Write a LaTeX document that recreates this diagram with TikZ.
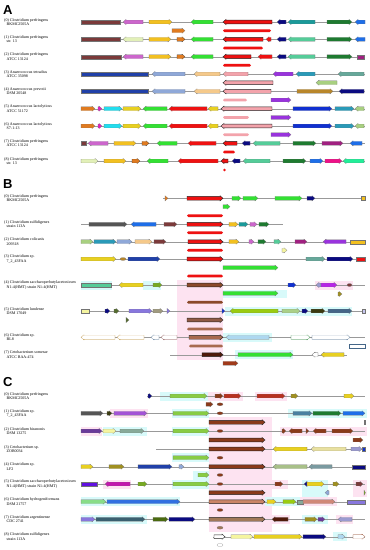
\documentclass[tikz,border=0pt]{standalone}
\usepackage{fontspec}
\setmainfont{Liberation Serif}
\newfontfamily\hv{Liberation Sans}
\definecolor{cBrn}{HTML}{7B3A3A}
\definecolor{cOrc}{HTML}{CC66CC}
\definecolor{cGld}{HTML}{F2C020}
\definecolor{cGrn}{HTML}{33E033}
\definecolor{cRed}{HTML}{EE1111}
\definecolor{cNvy}{HTML}{0A0A80}
\definecolor{cTea}{HTML}{1A9A9A}
\definecolor{cDgr}{HTML}{1E7A30}
\definecolor{cBlu}{HTML}{1E6EE8}
\definecolor{cOrg}{HTML}{E07B20}
\definecolor{cPyg}{HTML}{E2F0B8}
\definecolor{cAqu}{HTML}{55CC99}
\definecolor{cPur}{HTML}{A02080}
\definecolor{cBl2}{HTML}{2040A8}
\definecolor{cLst}{HTML}{8FA8D8}
\definecolor{cTan}{HTML}{F5C98A}
\definecolor{cPnk}{HTML}{F3A3AB}
\definecolor{cVio}{HTML}{9933DD}
\definecolor{cCyt}{HTML}{2A9AB8}
\definecolor{cCad}{HTML}{66A89A}
\definecolor{cYgr}{HTML}{A8D080}
\definecolor{cBgd}{HTML}{B8862A}
\definecolor{cMag}{HTML}{E020C0}
\definecolor{cCya}{HTML}{22DDEE}
\definecolor{cYel}{HTML}{E8D020}
\definecolor{cBl3}{HTML}{1030D0}
\definecolor{cDpk}{HTML}{EE1188}
\definecolor{cSpr}{HTML}{22EE99}
\definecolor{cGry}{HTML}{555555}
\definecolor{cOlv}{HTML}{77AA22}
\definecolor{cBrB}{HTML}{8B4A2A}
\definecolor{cBrL}{HTML}{A86A50}
\definecolor{cDol}{HTML}{556B2F}
\definecolor{cSlb}{HTML}{8877DD}
\definecolor{cGtn}{HTML}{A09A80}
\definecolor{cYgB}{HTML}{99CC11}
\definecolor{cLgr}{HTML}{AAD088}
\definecolor{cDbr}{HTML}{3A3A10}
\definecolor{cSlt}{HTML}{446688}
\definecolor{cLav}{HTML}{C8C8F0}
\definecolor{cLbl}{HTML}{AED8F0}
\definecolor{cPyl}{HTML}{F5F5A0}
\definecolor{cBrR}{HTML}{A03A1A}
\definecolor{cRdB}{HTML}{B83020}
\definecolor{cOlG}{HTML}{A09020}
\definecolor{cStb}{HTML}{4A80A0}
\definecolor{cPrp}{HTML}{6A3A9A}
\definecolor{cGgr}{HTML}{88AA99}
\definecolor{cKha}{HTML}{E8E0A0}
\definecolor{cLv2}{HTML}{9A9AD0}
\definecolor{cSag}{HTML}{A8C088}
\definecolor{cGtl}{HTML}{7A9AA0}
\definecolor{cVi2}{HTML}{6010E0}
\definecolor{cLgn}{HTML}{88DD88}
\definecolor{cBl4}{HTML}{3070E0}
\definecolor{cSal}{HTML}{D08878}
\definecolor{cDst}{HTML}{3A6070}
\definecolor{cDog}{HTML}{4A6A10}
\definecolor{cDrb}{HTML}{501A0A}
\definecolor{cTnb}{HTML}{A07858}
\definecolor{cBrC}{HTML}{8A3A1A}
\definecolor{cYgC}{HTML}{88CC44}
\definecolor{bgP}{HTML}{FDE3F1}
\definecolor{bgC}{HTML}{D8FAFA}
\newcommand{\lbfont}{\fontsize{4}{4.3}\selectfont}
\newcommand{\gR}[5][]{\pgfmathsetmacro\gh{min(3,#3-#2)}\filldraw[gene,fill=#5,#1] (#2,#4-1.9) -- ({#3-\gh},#4-1.9) -- ({#3-\gh},#4-2.6) -- (#3,#4) -- ({#3-\gh},#4+2.6) -- ({#3-\gh},#4+1.9) -- (#2,#4+1.9) -- cycle;}
\newcommand{\gL}[5][]{\pgfmathsetmacro\gh{min(3,#3-#2)}\filldraw[gene,fill=#5,#1] (#3,#4-1.9) -- ({#2+\gh},#4-1.9) -- ({#2+\gh},#4-2.6) -- (#2,#4) -- ({#2+\gh},#4+2.6) -- ({#2+\gh},#4+1.9) -- (#3,#4+1.9) -- cycle;}
\newcommand{\gB}[5][]{\filldraw[gene,fill=#5,#1] (#2,#4-1.9) rectangle (#3,#4+1.9);}
\newcommand{\gBar}[4]{\fill[#4,rounded corners=1.4pt] (#1,#3-1.4) rectangle (#2,#3+1.4);}
\newcommand{\gEl}[5][]{\filldraw[gene,fill=#5,#1] ({(#2+#3)/2},#4) ellipse ({(#3-#2)/2} and 1.5);}
\newcommand{\gline}[3]{\draw[gline] (#1,#3) -- (#2,#3);}
\newcommand{\bgr}[5]{\fill[#5] (#1,#3) rectangle (#2,#4);}
\begin{document}
\begin{tikzpicture}[x=1pt,y=-1pt,
  gene/.style={draw=black!55,line width=0.15pt},
  hit/.style={draw=black!85,line width=0.4pt},
  gline/.style={draw=black!40,line width=0.3pt},
  lbl/.style={anchor=west,align=left,font=\lbfont,inner sep=0pt},
  panel/.style={anchor=west,inner sep=0pt,font=\hv\bfseries\fontsize{13}{13}\selectfont}]
\useasboundingbox (0,0) rectangle (370,550);
\fill[white] (0,0) rectangle (370,550);
% ================= Panel A =================
\node[panel] (pA) at (3,10.5) {A};
\node[lbl] (a0) at (4,22) {(0) Clostridium perfringens\\\hspace*{2.5pt}BKMC2505A};
\node[lbl] (a1) at (4,39.3) {(1) Clostridium perfringens\\\hspace*{2.5pt}str. 13};
\node[lbl] (a2) at (4,56.7) {(2) Clostridium perfringens\\\hspace*{2.5pt}ATCC 13124};
\node[lbl] (a3) at (4,74) {(3) Anaerococcus tetradius\\\hspace*{2.5pt}ATCC 35098};
\node[lbl] (a4) at (4,91.3) {(4) Anaerococcus prevotii\\\hspace*{2.5pt}DSM 20548};
\node[lbl] (a5) at (4,108.7) {(5) Anaerococcus lactolyticus\\\hspace*{2.5pt}ATCC 51172};
\node[lbl] (a6) at (4,126) {(6) Anaerococcus lactolyticus\\\hspace*{2.5pt}S7-1-13};
\node[lbl] (a7) at (4,143.3) {(7) Clostridium perfringens\\\hspace*{2.5pt}ATCC 13124};
\node[lbl] (a8) at (4,161) {(8) Clostridium perfringens\\\hspace*{2.5pt}str. 13};
% row 0
\gline{81}{365}{22}
\gB{81}{120}{22}{cBrn}\gL{123}{143}{22}{cOrc}\gR{149}{172}{22}{cGld}\gL{191}{213}{22}{cGrn}
\gL[hit]{223}{272}{22}{cRed}\gL{277}{286}{22}{cNvy}\gL{288}{315}{22}{cTea}\gR{327}{352}{22}{cDgr}\gL{355}{365}{22}{cBlu}
\gR{172}{185}{30.7}{cOrg}\gBar{223}{271}{30.7}{cRed}
% row 1
\gline{81}{365}{39.3}
\gB{81}{120}{39.3}{cBrn}\gL{123}{143}{39.3}{cPyg}\gR{149}{171}{39.3}{cGld}\gR[draw=black!80]{177}{185}{39.3}{cOrg}\gL{191}{213}{39.3}{cGrn}
\gL[hit]{223}{263}{39.3}{cRed}\gL{266}{271}{39.3}{cRed}\gL{277}{286}{39.3}{cNvy}\gL{288}{315}{39.3}{cAqu}\gR{327}{352}{39.3}{cDgr}\gL{355}{365}{39.3}{cBlu}
\gBar{223}{263}{48}{cRed}
% row 2
\gline{81}{365}{56.7}
\gB{81}{121}{56.7}{cBrn}\gL{123}{143}{56.7}{cOrc}\gR{149}{171}{56.7}{cGld}\gR[draw=black!80]{177}{185}{56.7}{cOrg}\gL{191}{213}{56.7}{cGrn}
\gL[hit]{223}{251}{56.7}{cRed}\gL{258}{272}{56.7}{cRed}\gL{277}{286}{56.7}{cNvy}\gL{288}{315}{56.7}{cAqu}\gR{327}{352}{56.7}{cDgr}\gB{357}{364}{56.7}{cPur}
\gBar{223}{251}{65.3}{cRed}
% row 3
\gline{81}{365}{74}
\gB{81}{148}{74}{cBl2}\gL{152}{185}{74}{cLst}\gL{194}{220}{74}{cTan}\gL{223}{248}{74}{cPnk}\gL{273}{293}{74}{cVio}\gL{296}{315}{74}{cCyt}\gL{338}{364}{74}{cCad}
\gL[hit]{223}{273}{82.7}{cPnk}\gL{316}{337}{82.7}{cYgr}
% row 4
\gline{81}{365}{91.3}
\gB{81}{148}{91.3}{cBl2}\gL{152}{185}{91.3}{cLst}\gL{194}{220}{91.3}{cTan}\gL[hit]{223}{271}{91.3}{cPnk}\gR{297}{333}{91.3}{cBgd}\gL{339}{364}{91.3}{cNvy}
\gBar{223}{247}{100}{cPnk}\gR{271}{291}{100}{cVio}
% row 5 and 6
\foreach \yy in {108.7,126}{
\gline{81}{365}{\yy}
\gR{81}{95}{\yy}{cOrg}\gR{98}{102}{\yy}{cMag}\gR{104}{122}{\yy}{cCya}\gR{123}{141}{\yy}{cYel}\gL{143}{167}{\yy}{cGrn}\gL{169}{207}{\yy}{cRed}\gL{208}{218}{\yy}{cYel}
\gL[hit]{221}{272}{\yy}{cPnk}\gR{293}{332}{\yy}{cBl3}\gR{335}{354}{\yy}{cCyt}\gL{355}{364}{\yy}{cYgr}
\gBar{223}{249}{\yy+8.7}{cPnk}\gR{271}{291}{\yy+8.7}{cVio}
}
% row 7
\gline{81}{365}{143.3}
\gB{81}{86}{143.3}{cBrn}\gL{88}{108}{143.3}{cOrc}\gR{114}{136}{143.3}{cGld}\gR[draw=black!80]{142}{149}{143.3}{cOrg}\gL{157}{177}{143.3}{cGrn}\gL{188}{216}{143.3}{cRed}
\gL[hit]{223}{237}{143.3}{cRed}\gL{242}{250}{143.3}{cNvy}\gL{253}{280}{143.3}{cAqu}\gR{293}{316}{143.3}{cDgr}\gR{322}{343}{143.3}{cPur}\gL{350}{362}{143.3}{cBlu}
\gBar{223}{235}{152}{cRed}
% row 8
\gline{81}{365}{161}
\gR{81}{98}{161}{cPyg}\gR{104}{126}{161}{cGld}\gR[draw=black!80]{132}{140}{161}{cOrg}\gL{147}{168}{161}{cGrn}\gL{178}{218}{161}{cRed}
\gL[hit]{221}{228}{161}{cRed}\gL{232}{240}{161}{cNvy}\gL{243}{270}{161}{cAqu}\gR{283}{306}{161}{cDgr}\gR{310}{323}{161}{cBlu}\gR{325}{342}{161}{cDpk}\gL{343}{364}{161}{cSpr}
\fill[cRed] (224.5,170) circle (1.4);
% ================= Panel B =================
\node[panel] (pB) at (3,184.5) {B};
\node[lbl] (b0) at (4,198.3) {(0) Clostridium perfringens\\\hspace*{2.5pt}BKMC2505A};
\node[lbl] (b1) at (4,224.3) {(1) Clostridium sulfidigenes\\\hspace*{2.5pt}strain 113A};
\node[lbl] (b2) at (4,241.7) {(2) Clostridium colicanis\\\hspace*{2.5pt}209318};
\node[lbl] (b3) at (4,259) {(3) Clostridium sp.\\\hspace*{2.5pt}7\_2\_43FAA};
\node[lbl] (b4) at (4,285) {(4) Clostridium saccharoperbutylacetonicum\\\hspace*{2.5pt}N1-4(HMT) strain N1-4(HMT)};
\node[lbl] (b5) at (4,311) {(5) Clostridium lundense\\\hspace*{2.5pt}DSM 17049};
\node[lbl] (b6) at (4,337.3) {(6) Clostridium sp.\\\hspace*{2.5pt}BL8};
\node[lbl] (b7) at (4,354.7) {(7) Cetobacterium somerae\\\hspace*{2.5pt}ATCC BAA-474};
% backgrounds
\bgr{177}{223}{280}{360}{bgP}
\bgr{81}{112}{280.5}{289.5}{bgC}\bgr{143}{161}{280.5}{289.5}{bgC}\bgr{315}{353}{280.5}{289.5}{bgP}
\bgr{223}{287}{289.5}{297.5}{bgC}
\bgr{225}{352}{306.5}{315.5}{bgC}
\bgr{223}{272}{333}{342}{bgC}
\bgr{235}{293}{350}{359}{bgC}
% row 0
\gline{163}{365}{198.3}
\gR{165}{168}{198.3}{cOrg}\gR[hit]{187}{223}{198.3}{cRed}\gR{232}{241}{198.3}{cGrn}\gR{243}{258}{198.3}{cGrn}\gR{275}{302}{198.3}{cGrn}\gR{307}{315}{198.3}{cNvy}\gB{361}{365}{198.3}{cGld}
\gR{223}{230}{206.7}{cGrn}
\gBar{187}{223}{215.7}{cRed}
% row 1
\gline{81}{283}{224.3}
\gR{89}{127}{224.3}{cGry}\gL{131}{156}{224.3}{cBlu}\gR{164}{177}{224.3}{cBrn}\gR[hit]{187}{223}{224.3}{cRed}\gR{229}{238}{224.3}{cGld}\gR{239}{248}{224.3}{cTea}\gR{250}{257}{224.3}{cOrc}\gR{259}{269}{224.3}{cDgr}
\gBar{187}{223}{232.7}{cRed}
% row 2
\gline{81}{365}{241.7}
\gR{81}{93}{241.7}{cYgr}\gR{94}{116}{241.7}{cCyt}\gR{117}{132}{241.7}{cLst}\gR{135}{152}{241.7}{cTan}\gR{154}{166}{241.7}{cBrn}\gR[hit]{188}{223}{241.7}{cRed}
\gR{229}{239}{241.7}{cGld}\gR{249}{254}{241.7}{cOrc}\gR{258}{266}{241.7}{cDgr}\gR{274}{281}{241.7}{cAqu}\gR{295}{307}{241.7}{cPur}\gL{323}{346}{241.7}{cVio}\gB{350}{365}{241.7}{cGld}
\gBar{187}{223}{250.3}{cRed}\gR{282}{287}{250.3}{cPyl}
% row 3
\gline{81}{365}{259}
\gR{81}{116}{259}{cYel}\gEl{120}{126}{259}{cBgd}\gR{128}{160}{259}{cBl2}\gR[hit]{187}{223}{259}{cRed}\gR{306}{325}{259}{cCad}\gR{327}{353}{259}{cNvy}\gB{356}{365}{259}{cRed}
\gR{223}{278}{267.7}{cGrn}
\gBar{187}{223}{276}{cRed}
% row 4
\gline{81}{365}{285}
\gB{81}{111}{285}{cAqu}\gL{119}{143}{285}{cYel}\gR{153}{162}{285}{cOlv}\gR[hit]{187}{223}{285}{cBrB}\gR{288}{296}{285}{cBl3}\gL{316}{321}{285}{cLv2}\gR{321}{337}{285}{cVio!70!magenta}\gEl{347}{352}{285}{cBrn}
\gR{223}{278}{293.3}{cGrn}\gR{338}{342}{294}{cOlG}
\gBar{187}{223}{302.3}{cBrB}
% row 5
\gline{81}{365}{311}
\gB{81}{89}{311}{cPyl}\gR{105}{110}{311}{cNvy}\gR{114}{119}{311}{cDol}\gR{129}{152}{311}{cSlb}\gR{153}{163}{311}{cGtn}\gR{167}{170}{311}{cSlb}\gR{222}{225}{311}{cBl3}
\gL{230}{278}{311}{cYgB}\gR{282}{300}{311}{cLgr}\gR{302}{308}{311}{cNvy}\gR{311}{325}{311}{cDbr}\gR{328}{352}{311}{cSlt}\gB{362}{365}{311}{cLav}
\gR{126}{129}{320}{cDol}\gR[hit]{187}{223}{320}{cBrL!85!black}
\gBar{187}{223}{329}{cBrL}
% row 6
\gline{81}{365}{337.3}
\gL[draw=cBgd]{81}{115}{337.3}{white}\gL[draw=cBgd]{117}{144}{337.3}{white}\gL[draw=cSlt]{151}{159}{337.3}{white}\gL[draw=cBrn]{161}{177}{337.3}{white}
\gR[hit]{189}{223}{337.3}{cBrL}\gL{226}{269}{337.3}{cLbl}\gR[draw=cDgr]{291}{310}{337.3}{white}\gR[draw=cSlt]{312}{350}{337.3}{white}
\gBar{189}{223}{346}{cBrL}\gB[draw=cSlt]{349}{365}{346}{white}
% row 7
\gline{170}{347}{354.7}
\gR[hit]{202}{223}{354.7}{cDrb}\gR{238}{293}{354.7}{cGrn}\gL[draw=black!70]{312}{318}{354.7}{white}\gL{321}{344}{354.7}{cYel}
\gR{223}{238}{363.3}{cBrR}
% ================= Panel C =================
\node[panel] (pC) at (3,382) {C};
\node[lbl] (c0) at (4,396) {(0) Clostridium perfringens\\\hspace*{2.5pt}BKMC2505A};
\node[lbl] (c1) at (4,413.3) {(1) Clostridium sp.\\\hspace*{2.5pt}7\_2\_43FAA};
\node[lbl] (c2) at (4,431) {(2) Clostridium hiranonis\\\hspace*{2.5pt}DSM 13275};
\node[lbl] (c3) at (4,449) {(3) Cetobacterium sp.\\\hspace*{2.5pt}ZOR0034};
\node[lbl] (c4) at (4,466.7) {(4) Clostridium sp.\\\hspace*{2.5pt}LF2};
\node[lbl] (c5) at (4,484) {(5) Clostridium saccharoperbutylacetonicum\\\hspace*{2.5pt}N1-4(HMT) strain N1-4(HMT)};
\node[lbl] (c6) at (4,501.7) {(6) Clostridium hydrogeniformans\\\hspace*{2.5pt}DSM 21757};
\node[lbl] (c7) at (4,519.3) {(7) Clostridium argentinense\\\hspace*{2.5pt}CDC 2741};
\node[lbl] (c8) at (4,536.7) {(8) Clostridium sulfidigenes\\\hspace*{2.5pt}strain 113A};
% backgrounds
\bgr{209}{272}{417}{532}{bgP}
\bgr{160}{208}{391.5}{400.5}{bgC}\bgr{208}{243}{391.5}{400.5}{bgP}\bgr{255}{287}{391.5}{400.5}{bgP}
\bgr{110}{148}{409}{418}{bgP}\bgr{172}{209}{409}{418}{bgC}\bgr{288}{367}{409}{418}{bgC}
\bgr{81}{102}{426.5}{435.5}{bgP}\bgr{103}{147}{426.5}{435.5}{bgC}\bgr{172}{209}{426.5}{435.5}{bgC}\bgr{280}{367}{426.5}{435.5}{bgP}
\bgr{172}{209}{453}{462}{bgC}\bgr{193}{209}{470.5}{479.5}{bgC}
\bgr{103}{131}{479.5}{488.5}{bgP}\bgr{172}{209}{479.5}{488.5}{bgC}\bgr{272}{288}{479.5}{488.5}{bgP}\bgr{302}{328}{479.5}{497}{bgC}\bgr{353}{367}{479.5}{497}{bgP}
\bgr{81}{180}{497}{506}{bgC}\bgr{265}{300}{497}{506}{bgC}\bgr{300}{337}{497}{506}{bgP}
\bgr{81}{147}{515}{524}{bgC}\bgr{268}{290}{515}{524}{bgP}\bgr{302}{328}{515}{524}{bgC}\bgr{336}{353}{515}{524}{bgP}
\bgr{333}{347}{532}{541}{bgC}
% row 0
\gline{147}{365}{396}
\gR{148}{152}{396}{cNvy}\gR{170}{207}{396}{cYgC}\gR{215}{223}{396}{cBrC}\gR{224}{241}{396}{cRdB}\gR{257}{285}{396}{cRdB}\gR{291}{298}{396}{cOlG}\gR{344}{354}{396}{cYel}
\gR{206}{213}{404.3}{cBrC}\gEl{217}{223}{404.3}{cBrC}
% row 1
\gline{81}{365}{413.3}
\gR{81}{103}{413.3}{cGry}\gR{107}{112}{413.3}{cDbr}\gR{114}{147}{413.3}{cOrc!80!blue}\gR{173}{209}{413.3}{cYgC}\gEl{217}{223}{413.3}{cBrC}\gR{293}{312}{413.3}{cStb}\gR{313}{341}{413.3}{cDgr}\gR{343}{365}{413.3}{cBlu}
\gR[hit]{209}{265}{422.3}{cBrC}\gB{364}{365.5}{422.3}{cYel}
% row 2
\gline{81}{365}{431}
\gR{81}{102}{431}{cPrp}\gR{103}{116}{431}{cPyl}\gR{120}{144}{431}{cGgr}\gR{173}{209}{431}{cYgC}\gEl{217}{223}{431}{cBrC}
\gR{282}{286}{431}{cBrC}\gL{289}{302}{431}{cBrC}\gR{306}{309}{431}{cBrC}\gL{313}{326}{431}{cBrC}\gR{332}{353}{431}{cBrC}
\gR[hit]{209}{265}{440}{cBrC}\gR{353}{363}{440}{cBrC}
% row 3
\gline{156}{365}{449}
\gR[hit]{209}{265}{449}{cBrC}\gL{273}{307}{449}{cYel}\gL{311}{346}{449}{cKha}\gR{351}{362}{449}{cLv2}\gB{362}{365}{449}{cBl3}
\gR{173}{209}{457.7}{cYgC}\gEl{217}{223}{457.7}{cBrC}
% row 4
\gline{81}{365}{466.7}
\gR{81}{93}{466.7}{cYel}\gR{109}{124}{466.7}{cOlG}\gR{138}{172}{466.7}{cBl2}\gR{179}{184}{466.7}{cLst}\gR[hit]{209}{265}{466.7}{cBrC}\gL{273}{307}{466.7}{cSag}\gL{309}{332}{466.7}{cGtl}\gB{352}{365}{466.7}{cNvy}
\gR{198}{209}{475}{cYgC}\gEl{217}{223}{475}{cBrC}
% row 5
\gline{81}{365}{484}
\gB{81}{97}{484}{cVi2}\gL{105}{130}{484}{cMag!70!violet}\gR{138}{147}{484}{cOlv}\gR{173}{209}{484}{cYgC}\gEl{217}{223}{484}{cBrC}
\gR{275}{283}{484}{cBrC}\gL{304}{307}{484}{cNvy}\gR{307}{324}{484}{cYel}\gR{333}{339}{484}{cOlG}\gR{356}{363}{484}{cBrn}
\gR[hit]{209}{265}{492.7}{cBrC}\gL{325}{329}{492.7}{cLst}\gR{364}{365.5}{492.7}{cOlv}
% row 6
\gline{81}{365}{501.7}
\gR{81}{106}{501.7}{cLgn}\gR{107}{180}{501.7}{cBl4}\gR[hit]{209}{265}{501.7}{cSal!70!brown}\gR{267}{276}{501.7}{cYel}\gR{283}{296}{501.7}{cYgB}\gB{297}{303}{501.7}{cGgr}\gR{303}{335}{501.7}{cSal}\gB{347}{365}{501.7}{cSlb}
\gEl{217}{223}{510}{cBrC}
% row 7
\gline{81}{365}{519.3}
\gR{81}{95}{519.3}{cSlb}\gR{96}{145}{519.3}{cDst}\gR{153}{168}{519.3}{cDog}\gR{169}{195}{519.3}{cNvy}\gR[hit]{209}{265}{519.3}{cTnb}\gL{272}{288}{519.3}{cDrb}\gR{305}{317}{519.3}{cOlG}\gR{318}{325}{519.3}{cPrp}\gL{338}{352}{519.3}{cLv2}
\gEl{217}{223}{527.7}{cTnb}
% row 8
\gline{213}{365}{536.7}
\gR[hit]{214}{225}{536.7}{white}\gR{231}{253}{536.7}{cPyl}\gR{254}{302}{536.7}{cYel}\gR{303}{326}{536.7}{cNvy}\gR{338}{345}{536.7}{cLbl}\gR[draw=cBrC]{353}{365}{536.7}{white}
\gEl[draw=black!50]{217}{223}{545}{white}
\end{tikzpicture}
\end{document}
